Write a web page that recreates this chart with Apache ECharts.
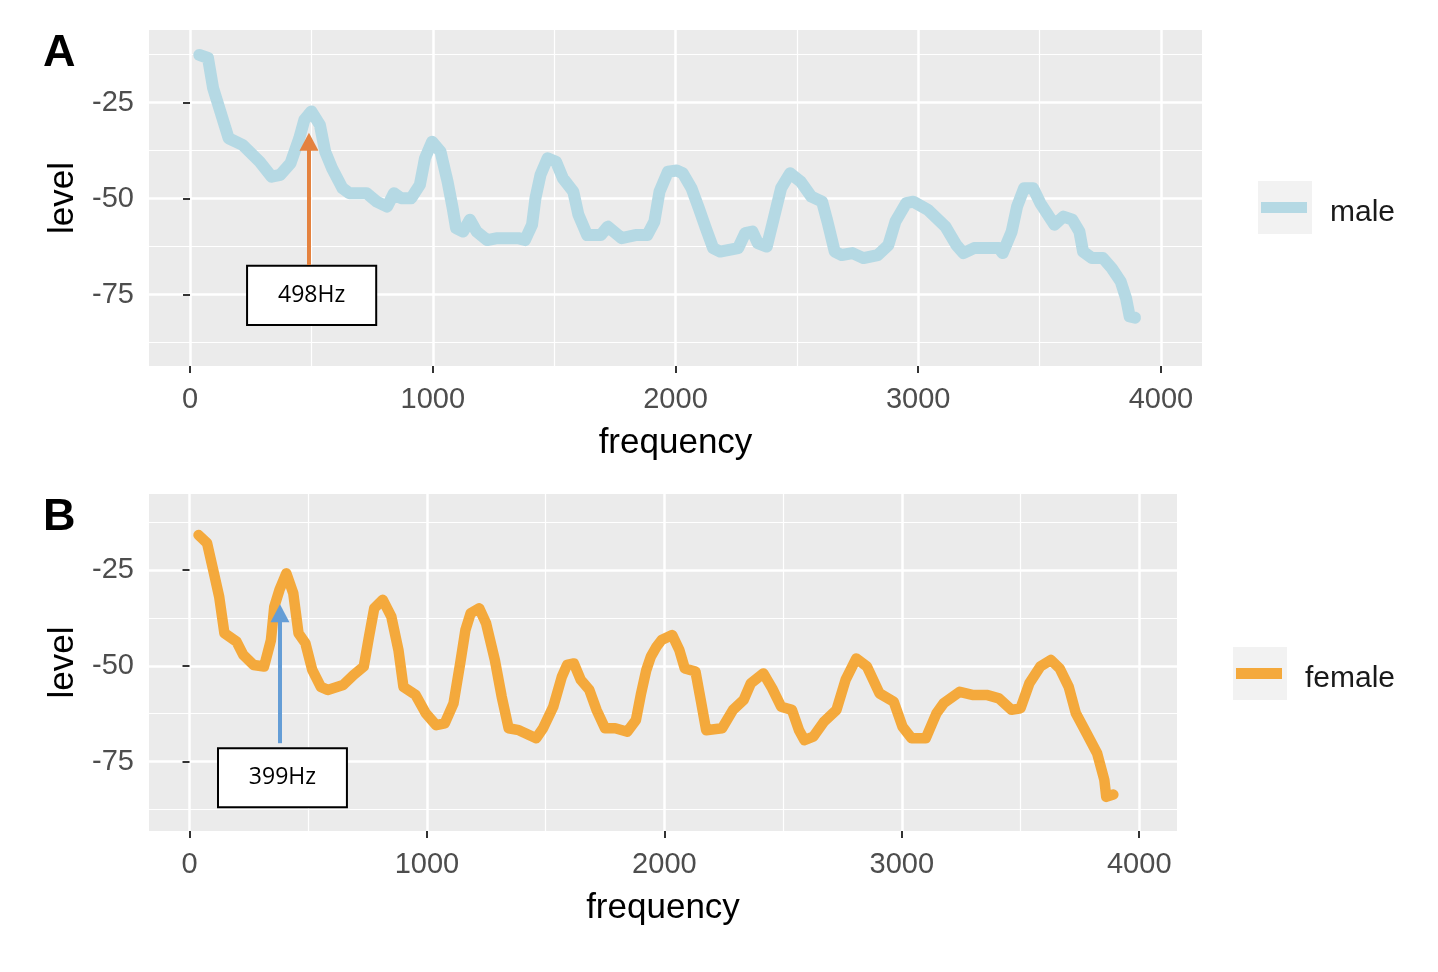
<!DOCTYPE html>
<html>
<head>
<meta charset="utf-8">
<script src="https://cdn.jsdelivr.net/npm/echarts@6/dist/echarts.min.js"></script>
<style>
  html, body { margin: 0; padding: 0; background: #fff; }
  #main { width: 1438px; height: 972px; }
</style>
</head>
<body>
<div id="main"></div>
<script>
// male spectrum (panel A)
var maleFreq = [38, 74, 95, 138, 159, 216, 287, 336, 372, 414, 450, 471, 500, 535, 557, 585, 628, 656, 727, 769, 812, 840, 869, 911, 947, 968, 997, 1032, 1061, 1082, 1096, 1125, 1153, 1181, 1224, 1266, 1352, 1380, 1409, 1423, 1444, 1473, 1508, 1536, 1579, 1600, 1636, 1692, 1721, 1778, 1835, 1884, 1913, 1934, 1969, 2005, 2030, 2066, 2096, 2125, 2155, 2184, 2258, 2287, 2317, 2339, 2376, 2405, 2435, 2472, 2516, 2560, 2604, 2626, 2656, 2685, 2729, 2774, 2833, 2877, 2906, 2950, 2980, 3039, 3112, 3157, 3186, 3230, 3333, 3348, 3385, 3407, 3436, 3473, 3503, 3561, 3598, 3635, 3664, 3679, 3716, 3761, 3797, 3834, 3856, 3871, 3893];
var maleLevel = [-12.6, -13.4, -21.2, -30, -34.3, -36, -40.4, -44.3, -43.8, -40.8, -34.3, -29.5, -27.3, -30.8, -37.8, -42.1, -47.3, -48.6, -48.6, -50.8, -52.1, -48.6, -49.9, -49.9, -46.4, -39.5, -35.2, -37.8, -45.6, -52.5, -57.7, -58.6, -55.5, -58.6, -60.8, -60.3, -60.3, -60.8, -56.8, -49.9, -43.8, -39.5, -40.4, -44.7, -48.2, -54.2, -59.5, -59.5, -57.3, -60.3, -59.5, -59.5, -56, -48.2, -43, -42.7, -43.4, -47.3, -52.5, -57.7, -62.9, -63.8, -62.9, -59, -58.6, -61.6, -62.5, -55.1, -47.3, -43.4, -45.6, -49.5, -50.8, -56, -63.8, -64.7, -64.2, -65.5, -64.7, -62.1, -56, -51.2, -50.8, -52.9, -57.3, -62.1, -64.2, -62.9, -62.9, -64.2, -58.6, -52.1, -47.3, -47.3, -51.2, -56.8, -54.7, -55.5, -58.6, -63.8, -65.5, -65.5, -68.1, -71.6, -75.9, -80.7, -81];

// female spectrum (panel B)
var femaleFreq = [38, 74, 103, 125, 147, 198, 227, 270, 314, 343, 357, 379, 408, 437, 459, 488, 517, 553, 582, 647, 691, 734, 756, 778, 814, 850, 880, 901, 952, 995, 1039, 1075, 1112, 1140, 1162, 1184, 1220, 1249, 1286, 1315, 1344, 1387, 1460, 1489, 1532, 1568, 1590, 1619, 1648, 1684, 1714, 1750, 1793, 1844, 1880, 1902, 1924, 1943, 1967, 1988, 2033, 2063, 2086, 2131, 2153, 2176, 2243, 2289, 2334, 2364, 2417, 2454, 2492, 2537, 2567, 2590, 2627, 2672, 2725, 2763, 2808, 2853, 2906, 2966, 3003, 3041, 3101, 3146, 3176, 3244, 3297, 3357, 3409, 3462, 3500, 3537, 3583, 3628, 3665, 3703, 3733, 3778, 3823, 3853, 3861, 3891];
var femaleLevel = [-15.9, -18, -25.9, -32, -41.5, -43.7, -47.2, -49.8, -50.2, -43.3, -34.6, -30.2, -25.9, -31.1, -41.5, -44.1, -51.1, -55.5, -56.3, -55, -52.4, -50.2, -42.4, -35, -32.8, -37.2, -45.9, -55.5, -57.6, -62.4, -65.5, -65, -59.8, -49.4, -40.7, -36.3, -35, -38.9, -48.5, -58.1, -66.3, -66.8, -68.9, -66.3, -60.7, -52.9, -49.8, -49.4, -53.7, -56.3, -61.5, -66.3, -66.3, -67.2, -64.2, -57.2, -51.1, -47.6, -45, -43.3, -42, -45.9, -50.7, -51.5, -58.9, -66.8, -66.3, -61.5, -58.9, -54.6, -52, -55.9, -60.7, -61.5, -66.8, -69.4, -68.5, -64.6, -61.5, -53.7, -48.1, -50.2, -57.2, -59.4, -65.9, -68.9, -68.9, -62.4, -59.8, -56.8, -57.6, -57.6, -58.5, -61.5, -61.1, -54.6, -50.2, -48.5, -50.7, -55.5, -62.4, -67.6, -72.9, -79.8, -84.2, -83.6];

var freqTicks = [0, 1000, 2000, 3000, 4000];
var freqMinor = [500, 1500, 2500, 3500];
var levelTicks = [-75, -50, -25];
var levelMinor = [-87.5, -62.5, -37.5, -12.5];

var maleColor = '#b5d9e4';
var femaleColor = '#f4a93c';

function pairs(xs, ys) {
  var out = [];
  for (var i = 0; i < xs.length; i++) out.push([xs[i], ys[i]]);
  return out;
}

var font = 'Liberation Sans';
var chart = echarts.init(document.getElementById('main'));

function plain(v) { return String(v); }

function xAxes(gi, min, max) {
  return [{
    type: 'value', gridIndex: gi, min: min, max: max,
    name: 'frequency', nameLocation: 'middle', nameGap: 60,
    nameTextStyle: { fontFamily: font, fontSize: 35, color: '#000' },
    axisLine: { show: false },
    axisTick: { show: true, length: 7, customValues: freqTicks, lineStyle: { color: '#333', width: 2 } },
    axisLabel: { customValues: freqTicks, formatter: plain, fontFamily: font, fontSize: 29, color: '#4d4d4d', margin: 19 },
    splitLine: { show: true, lineStyle: { color: '#fff', width: 2.5 } }
  }, {
    type: 'value', gridIndex: gi, min: min, max: max, position: 'bottom',
    axisLine: { show: false },
    axisTick: { show: false, customValues: freqMinor },
    axisLabel: { show: false, customValues: freqMinor },
    splitLine: { show: true, lineStyle: { color: '#fff', width: 1.2 } }
  }];
}

function yAxes(gi, min, max) {
  return [{
    type: 'value', gridIndex: gi, min: min, max: max,
    name: 'level', nameLocation: 'middle', nameGap: 66, nameRotate: 90,
    nameTextStyle: { fontFamily: font, fontSize: 35, color: '#000' },
    axisLine: { show: false },
    axisTick: { show: true, length: 7, customValues: levelTicks, lineStyle: { color: '#333', width: 2 } },
    axisLabel: { customValues: levelTicks, formatter: plain, fontFamily: font, fontSize: 29, color: '#4d4d4d', margin: 15 },
    splitLine: { show: true, lineStyle: { color: '#fff', width: 2.5 } }
  }, {
    type: 'value', gridIndex: gi, min: min, max: max, position: 'left',
    axisLine: { show: false },
    axisTick: { show: false, customValues: levelMinor },
    axisLabel: { show: false, customValues: levelMinor },
    splitLine: { show: true, lineStyle: { color: '#fff', width: 1.2 } }
  }];
}

function note(text, box, arrow, color) {
  return {
    markArea: {
      silent: true,
      itemStyle: { color: '#fff', borderColor: '#000', borderWidth: 2 },
      label: { show: true, position: 'inside', formatter: text, fontFamily: 'Open Sans', fontSize: 23, color: '#000' },
      data: [[{ coord: [box[0], box[2]] }, { coord: [box[1], box[3]] }]]
    },
    markLine: {
      silent: true,
      symbol: ['none', 'triangle'],
      symbolSize: [19, 18],
      label: { show: false },
      lineStyle: { color: color, width: 4, type: 'solid' },
      data: [[{ coord: [arrow[0], arrow[1]] }, { coord: [arrow[0], arrow[2]] }]]
    }
  };
}

var maleSeries = {
  name: 'male', type: 'line', xAxisIndex: 0, yAxisIndex: 0,
  data: pairs(maleFreq, maleLevel), showSymbol: false, symbol: 'none',
  lineStyle: { color: maleColor, width: 12, join: 'round', cap: 'round' },
  itemStyle: { color: maleColor }, z: 3
};
Object.assign(maleSeries, note('498Hz', [235, 767, -67.5, -82.9], [490, -67.3, -35.2], '#e4823f'));

var femaleSeries = {
  name: 'female', type: 'line', xAxisIndex: 2, yAxisIndex: 2,
  data: pairs(femaleFreq, femaleLevel), showSymbol: false, symbol: 'none',
  lineStyle: { color: femaleColor, width: 10.5, join: 'round', cap: 'round' },
  itemStyle: { color: femaleColor }, z: 3
};
Object.assign(femaleSeries, note('399Hz', [120, 663, -71.5, -86.9], [381, -70.2, -36.3], '#649dd6'));

// legend keys (ggplot style: grey square with a line segment, label beside it)
function key(x, y, color, label) {
  return [
    { type: 'rect', shape: { x: x, y: y, width: 54, height: 53 }, style: { fill: '#f2f2f2' }, z: 0 },
    { type: 'rect', shape: { x: x + 3, y: y + 21, width: 46, height: 11 }, style: { fill: color }, z: 1 },
    { type: 'text', x: x + 72, y: y + 32, style: { text: label, fontFamily: font, fontSize: 30, fill: '#1a1a1a', verticalAlign: 'middle' }, z: 1 }
  ];
}

var option = {
  animation: false,
  backgroundColor: '#fff',
  title: [
    { text: 'A', left: 38, top: 26, textStyle: { fontFamily: font, fontSize: 45, fontWeight: 'bold', color: '#000' } },
    { text: 'B', left: 38, top: 490, textStyle: { fontFamily: font, fontSize: 45, fontWeight: 'bold', color: '#000' } }
  ],
  graphic: key(1258, 181, maleColor, 'male').concat(key(1233, 647, femaleColor, 'female')),
  grid: [
    { left: 149, top: 30, width: 1053, height: 336, show: true, backgroundColor: '#ebebeb', borderWidth: 0 },
    { left: 149, top: 494, width: 1028, height: 337, show: true, backgroundColor: '#ebebeb', borderWidth: 0 }
  ],
  xAxis: xAxes(0, -169, 4169).concat(xAxes(1, -170.6, 4159)),
  yAxis: yAxes(0, -93.6, -6.1).concat(yAxes(1, -93.1, -5.2)),
  series: [maleSeries, femaleSeries]
};
chart.setOption(option);
</script>
</body>
</html>
